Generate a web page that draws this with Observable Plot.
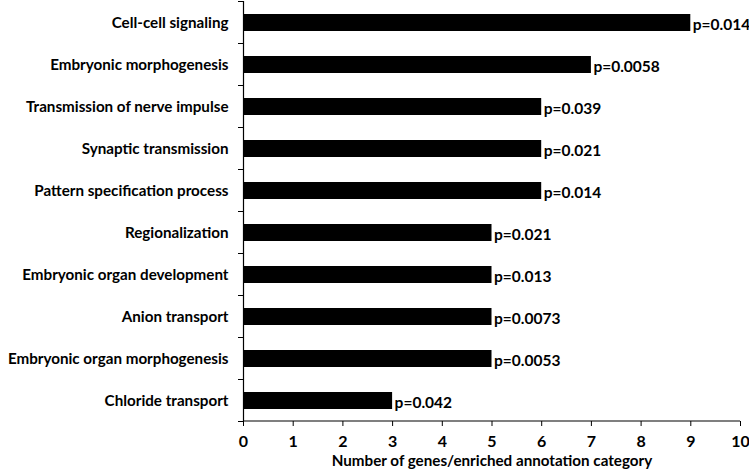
<!DOCTYPE html>
<html>
<head>
<meta charset="utf-8">
<script src="https://cdn.jsdelivr.net/npm/d3@7"></script>
<script src="https://cdn.jsdelivr.net/npm/@observablehq/plot@0.6"></script>
<style>
  html, body { margin: 0; padding: 0; background: #fff; }
</style>
</head>
<body>
<div id="chart"></div>
<script>
const categories = [
  "Cell-cell signaling",
  "Embryonic morphogenesis",
  "Transmission of nerve impulse",
  "Synaptic transmission",
  "Pattern specification process",
  "Regionalization",
  "Embryonic organ development",
  "Anion transport",
  "Embryonic organ morphogenesis",
  "Chloride transport"
];
const geneCounts = [9, 7, 6, 6, 6, 5, 5, 5, 5, 3];
const pLabels = ["p=0.014", "p=0.0058", "p=0.039", "p=0.021", "p=0.014", "p=0.021", "p=0.013", "p=0.0073", "p=0.0053", "p=0.042"];
const xTicks = [0, 1, 2, 3, 4, 5, 6, 7, 8, 9, 10];
const xTitle = "Number of genes/enriched annotation category";

const data = categories.map((c, i) => ({category: c, count: geneCounts[i], p: pLabels[i]}));

const font = "Lato, 'Open Sans', 'DejaVu Sans', sans-serif";

const plot = Plot.plot({
  width: 749,
  height: 472,
  marginLeft: 243,
  marginRight: 9,
  marginTop: 1,
  marginBottom: 51,
  style: {fontFamily: font, fontWeight: "bold", fontSize: "15px", color: "#000", background: "#fff"},
  x: {domain: [0, 10]},
  y: {domain: categories, paddingInner: 0.6, paddingOuter: 0.3},
  marks: [
    Plot.barX(data, {x: "count", y: "category", fill: "#000"}),
    Plot.text(data, {x: "count", y: "category", text: "p", textAnchor: "start", dx: 2, dy: 2, fontSize: 15.5, fontWeight: "bold"}),
    Plot.ruleX([0], {stroke: "#000", strokeWidth: 1.2}),
    Plot.axisX({ticks: xTicks, tickSize: 5, tickPadding: 9, tickFormat: d => String(d), label: null, fontSize: 16}),
    Plot.axisY({tickSize: 0, tickPadding: 15, label: null, fontSize: 15.2}),
    Plot.text([xTitle], {frameAnchor: "bottom", dy: 44, fontSize: 15.2, fontWeight: "bold"})
  ]
});

// Axis line at the bottom and category-boundary ticks on the y axis, placed from the plot's own scales
const xs = plot.scale("x");
const ys = plot.scale("y");
const svg = d3.select(plot);
const x0 = xs.apply(0), x1 = xs.apply(10);
const yBottom = Math.max(...ys.range);
svg.append("line")
  .attr("x1", x0).attr("x2", x1)
  .attr("y1", yBottom).attr("y2", yBottom)
  .attr("stroke", "#000").attr("stroke-width", 1.2);
const step = ys.step;
const bw = ys.bandwidth;
const bounds = categories.map(c => ys.apply(c) + bw / 2 - step / 2);
bounds.push(ys.apply(categories[categories.length - 1]) + bw / 2 + step / 2);
svg.append("g").selectAll("line").data(bounds).join("line")
  .attr("x1", x0 - 5).attr("x2", x0)
  .attr("y1", d => d).attr("y2", d => d)
  .attr("stroke", "#000").attr("stroke-width", 1);

document.getElementById("chart").append(plot);
</script>
</body>
</html>
